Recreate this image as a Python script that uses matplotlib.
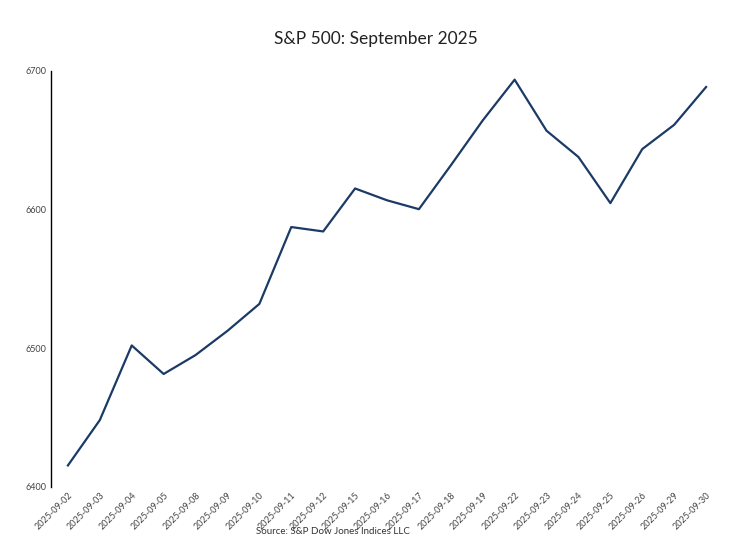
import matplotlib
matplotlib.use("Agg")
import matplotlib.pyplot as plt

dates = ["2025-09-02", "2025-09-03", "2025-09-04", "2025-09-05", "2025-09-08",
         "2025-09-09", "2025-09-10", "2025-09-11", "2025-09-12", "2025-09-15",
         "2025-09-16", "2025-09-17", "2025-09-18", "2025-09-19", "2025-09-22",
         "2025-09-23", "2025-09-24", "2025-09-25", "2025-09-26", "2025-09-29",
         "2025-09-30"]
closes = [6415.54, 6448.26, 6502.08, 6481.50, 6495.15, 6512.61, 6532.04,
          6587.47, 6584.29, 6615.28, 6606.76, 6600.35, 6631.96, 6664.36,
          6693.75, 6656.92, 6637.97, 6604.72, 6643.70, 6661.21, 6688.46]
yticks = [6400, 6500, 6600, 6700]

plt.rcParams['font.family'] = ['Lato', 'DejaVu Sans']

fig = plt.figure(figsize=(7.51, 5.54), dpi=100)
ax = fig.add_axes([51/751, 1-487/554, (723-51)/751, (487-71)/554])

x = list(range(len(dates)))
ax.plot(x, closes, color="#1c3a66", linewidth=1.6)
ax.set_xlim(-0.53, len(dates) - 0.47)
ax.set_ylim(6400, 6700)
ax.set_yticks(yticks)
ax.set_yticklabels([str(v) for v in yticks], fontsize=6.5, color="#444444")
ax.set_xticks(x)
ax.set_xticklabels(dates, rotation=45, ha="right", rotation_mode="anchor",
                   fontsize=6.5, color="#444444")
ax.tick_params(axis="both", length=0, pad=3)
for s in ["top", "right", "bottom"]:
    ax.spines[s].set_visible(False)
ax.spines["left"].set_linewidth(1.0)
ax.spines["left"].set_color("black")

fig.text(0.5, 1-39/554, "S&P 500: September 2025", ha="center", va="center",
         fontsize=12.5, color="#222222")
fig.text(333/751, 1-532/554, "Source: S&P Dow Jones Indices LLC", ha="center",
         va="center", fontsize=7, color="#333333")

fig.savefig("out.png", dpi=100)
